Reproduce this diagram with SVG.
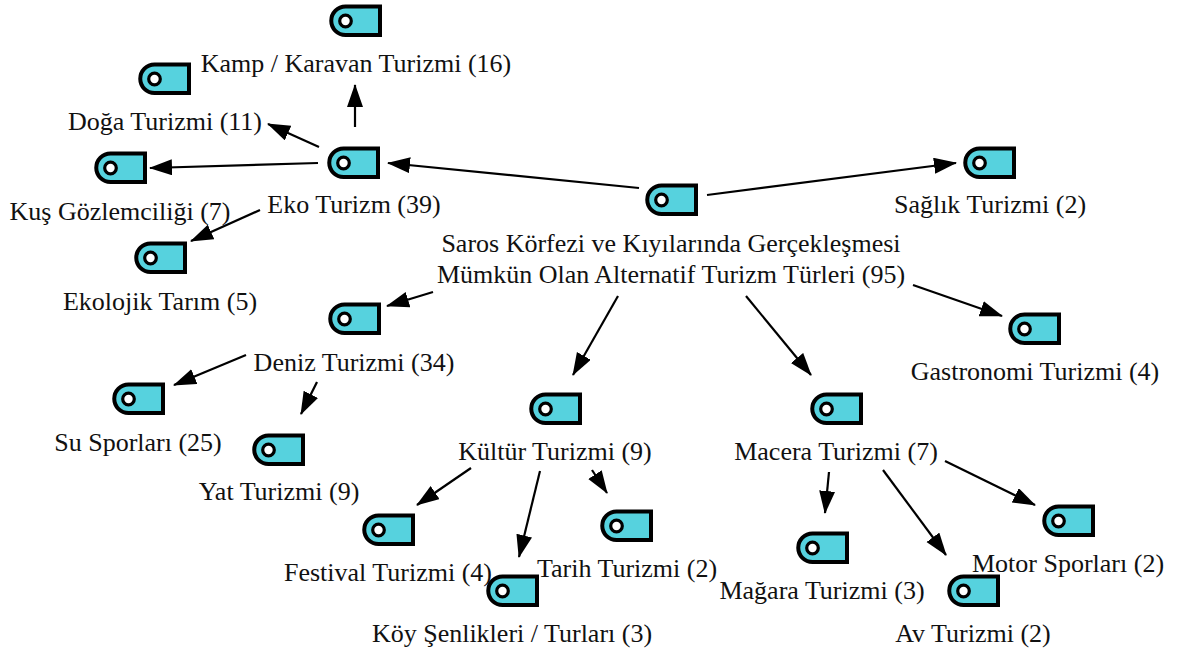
<svg xmlns="http://www.w3.org/2000/svg" xmlns:xlink="http://www.w3.org/1999/xlink" width="1178" height="649" viewBox="0 0 1178 649">
<style>
text{font-family:"Liberation Serif","Times New Roman",serif;font-size:26px;fill:#111;text-anchor:middle}
.c{stroke:#000;stroke-width:2.2;fill:none;marker-end:url(#a)}
.b{fill:#56d2de;stroke:#000;stroke-width:4}
.h{fill:#fff;stroke:#000;stroke-width:3.2}
</style>
<defs>
<marker id="a" markerUnits="userSpaceOnUse" markerWidth="24" markerHeight="18" refX="22" refY="8" orient="auto"><path d="M0 0L23 8L0 16Z" fill="#000"/></marker>
<g id="i"><path class="b" d="M15.5 1.5H50V30H15.5A14.25 14.25 0 0 1 1.25 15.75A14.25 14.25 0 0 1 15.5 1.5Z"/><circle class="h" cx="15.5" cy="16" r="5.8"/></g>
</defs>
<rect width="1178" height="649" fill="#fff"/>
<g id="connectors">
<path class="c" d="M355 127L355 85"/>
<path class="c" d="M319 147L268 124"/>
<path class="c" d="M318 163L150 168"/>
<path class="c" d="M639 188L388 163"/>
<path class="c" d="M707 195L956 163"/>
<path class="c" d="M260 210L191 241"/>
<path class="c" d="M433 292L387 306"/>
<path class="c" d="M913 285L1002 316"/>
<path class="c" d="M618 296L573 375"/>
<path class="c" d="M746 296L811 375"/>
<path class="c" d="M246 355L174 385"/>
<path class="c" d="M317 382L301 414"/>
<path class="c" d="M471 468L417 505"/>
<path class="c" d="M540 471L519 557"/>
<path class="c" d="M592 470L607 493"/>
<path class="c" d="M829 472L825 513"/>
<path class="c" d="M883 470L946 555"/>
<path class="c" d="M945 461L1035 505"/>
</g>
<g id="kamp"><use href="#i" x="330" y="5"/><text x="356" y="72">Kamp / Karavan Turizmi (16)</text></g>
<g id="doga"><use href="#i" x="139" y="63"/><text x="165" y="130">Doğa Turizmi (11)</text></g>
<g id="kus"><use href="#i" x="95" y="152"/><text x="120" y="220">Kuş Gözlemciliği (7)</text></g>
<g id="eko"><use href="#i" x="328" y="147"/><text x="354" y="213">Eko Turizm (39)</text></g>
<g id="ekolojik"><use href="#i" x="135" y="242"/><text x="160" y="310">Ekolojik Tarım (5)</text></g>
<g id="root"><use href="#i" x="646" y="184"/><text x="671" y="252">Saros Körfezi ve Kıyılarında Gerçekleşmesi</text><text x="671" y="283">Mümkün Olan Alternatif Turizm Türleri (95)</text></g>
<g id="saglik"><use href="#i" x="964" y="147"/><text x="990" y="213">Sağlık Turizmi (2)</text></g>
<g id="deniz"><use href="#i" x="329" y="303"/><text x="354" y="371">Deniz Turizmi (34)</text></g>
<g id="su"><use href="#i" x="113" y="383"/><text x="138" y="451">Su Sporları (25)</text></g>
<g id="yat"><use href="#i" x="253" y="434"/><text x="279" y="500">Yat Turizmi (9)</text></g>
<g id="gastronomi"><use href="#i" x="1009" y="313"/><text x="1035" y="380">Gastronomi Turizmi (4)</text></g>
<g id="kultur"><use href="#i" x="530" y="393"/><text x="555" y="460">Kültür Turizmi (9)</text></g>
<g id="macera"><use href="#i" x="811" y="393"/><text x="836" y="460">Macera Turizmi (7)</text></g>
<g id="festival"><use href="#i" x="363" y="514"/><text x="388" y="581">Festival Turizmi (4)</text></g>
<g id="tarih"><use href="#i" x="601" y="510"/><text x="627" y="577">Tarih Turizmi (2)</text></g>
<g id="koy"><use href="#i" x="487" y="575"/><text x="512" y="642">Köy Şenlikleri / Turları (3)</text></g>
<g id="magara"><use href="#i" x="797" y="532"/><text x="822" y="599">Mağara Turizmi (3)</text></g>
<g id="av"><use href="#i" x="948" y="575"/><text x="973" y="642">Av Turizmi (2)</text></g>
<g id="motor"><use href="#i" x="1043" y="505"/><text x="1068" y="572">Motor Sporları (2)</text></g>
</svg>
